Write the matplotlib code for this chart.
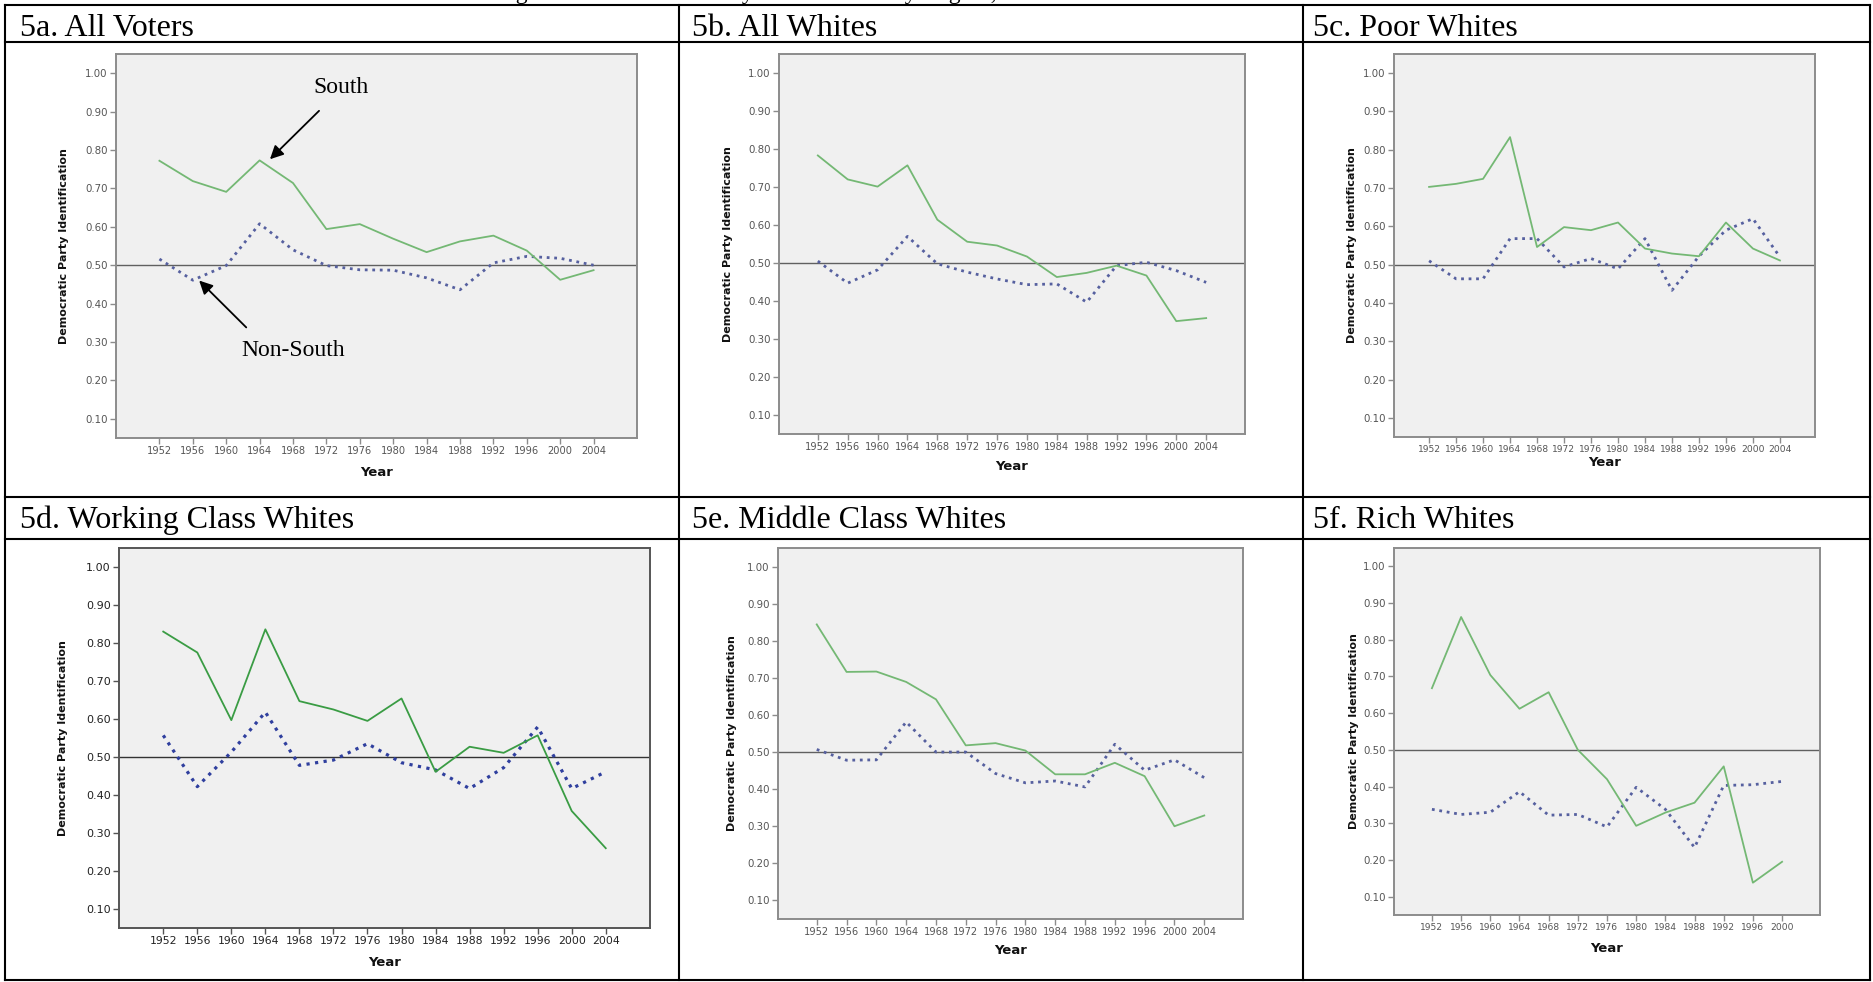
import matplotlib
matplotlib.use("Agg")
import matplotlib.pyplot as plt

W, H = 1873, 982

years = [1952, 1956, 1960, 1964, 1968, 1972, 1976, 1980, 1984, 1988, 1992, 1996, 2000, 2004]
years_rich = years[:-1]

titles = ["5a. All Voters", "5b. All Whites", "5c. Poor Whites",
          "5d. Working Class Whites", "5e. Middle Class Whites", "5f. Rich Whites"]

south_all = [0.772, 0.719, 0.691, 0.773, 0.714, 0.594, 0.607, 0.569, 0.534, 0.562, 0.577, 0.538, 0.462, 0.487]
nonsouth_all = [0.516, 0.461, 0.499, 0.608, 0.540, 0.499, 0.488, 0.487, 0.467, 0.436, 0.506, 0.523, 0.518, 0.500]

south_whites = [0.783, 0.720, 0.701, 0.757, 0.614, 0.556, 0.546, 0.517, 0.463, 0.474, 0.493, 0.467, 0.347, 0.355]
nonsouth_whites = [0.505, 0.447, 0.482, 0.570, 0.498, 0.476, 0.458, 0.443, 0.445, 0.397, 0.493, 0.502, 0.480, 0.449]

south_poor = [0.703, 0.711, 0.724, 0.833, 0.546, 0.598, 0.590, 0.610, 0.542, 0.529, 0.522, 0.610, 0.542, 0.511]
nonsouth_poor = [0.510, 0.463, 0.463, 0.568, 0.568, 0.494, 0.516, 0.489, 0.568, 0.433, 0.522, 0.590, 0.620, 0.520]

south_working = [0.830, 0.775, 0.597, 0.836, 0.647, 0.625, 0.595, 0.654, 0.461, 0.527, 0.511, 0.557, 0.358, 0.260]
nonsouth_working = [0.557, 0.422, 0.513, 0.618, 0.478, 0.492, 0.535, 0.485, 0.466, 0.417, 0.472, 0.579, 0.417, 0.461]

south_middle = [0.844, 0.716, 0.717, 0.689, 0.642, 0.518, 0.524, 0.504, 0.440, 0.440, 0.471, 0.435, 0.300, 0.329]
nonsouth_middle = [0.507, 0.478, 0.479, 0.581, 0.500, 0.500, 0.442, 0.417, 0.422, 0.406, 0.521, 0.451, 0.479, 0.431]

south_rich = [0.668, 0.862, 0.704, 0.612, 0.657, 0.500, 0.420, 0.293, 0.329, 0.356, 0.455, 0.138, 0.195]
nonsouth_rich = [0.338, 0.324, 0.330, 0.386, 0.322, 0.324, 0.290, 0.398, 0.338, 0.234, 0.403, 0.405, 0.414]

panel_years = [years, years, years, years, years, years_rich]
panel_south = [south_all, south_whites, south_poor, south_working, south_middle, south_rich]
panel_nonsouth = [nonsouth_all, nonsouth_whites, nonsouth_poor, nonsouth_working, nonsouth_middle, nonsouth_rich]

# plot frames in pixels: left, top, right, bottom ; ylabel offset, xlabel offset
frames = [
    (116, 54, 637, 438, 52, 35),
    (779, 54, 1245, 434, 51, 33),
    (1394, 54, 1815, 437, 42, 25),
    (119, 548, 650, 928, 56, 34),
    (778, 548, 1243, 919, 46, 32),
    (1394, 548, 1820, 915, 40, 33),
]

col_x = [5, 679, 1303, 1870]
row_y = [5, 42, 497, 539, 980]
title_x = [20, 692, 1313]
title_base = [36, 528]

fig = plt.figure(figsize=(W / 100, H / 100), dpi=100)
fig.patch.set_facecolor("white")

bg = fig.add_axes([0, 0, 1, 1])
bg.set_xlim(0, W)
bg.set_ylim(H, 0)
bg.axis("off")

for x in col_x:
    bg.plot([x, x], [row_y[0], row_y[-1]], color="black", lw=1.5, solid_capstyle="projecting")
for y in row_y:
    bg.plot([col_x[0], col_x[-1]], [y, y], color="black", lw=1.5, solid_capstyle="projecting")

# figure caption, cut off at the top edge as in the source page
bg.text(800, -1, "Figure 5: Democratic Party Identification by Region, 1952-2004",
        ha="center", va="baseline", fontsize=17, family="Liberation Serif", clip_on=False)

for i, t in enumerate(titles):
    bg.text(title_x[i % 3], title_base[i // 3], t, ha="left", va="baseline",
            fontsize=23, family="Liberation Serif")

for i in range(6):
    l, t, r, b, ylo, xlo = frames[i]
    w, h = r - l, b - t
    ax = fig.add_axes([l / W, 1 - b / H, w / W, h / H])
    ax.set_facecolor("#f0f0f0")
    crisp = (i == 3)
    green = "#3a9c44" if crisp else "#74b874"
    blue = "#2f3f9e" if crisp else "#56609f"
    grey = "#555555" if crisp else "#8c8c8c"
    txt = "#222222" if crisp else "#555555"
    ylab_size = 8 if crisp else 7.4
    xlab_size = 7.8 if crisp else (6.6 if i in (2, 5) else 7.1)

    yrs = panel_years[i]
    xs = list(range(len(yrs)))
    ax.axhline(0.5, color="#333333" if crisp else "#606060", lw=1.0, zorder=2)
    ax.plot(xs, panel_nonsouth[i], color=blue, lw=2.3 if crisp else 2.0,
            linestyle=(0, (1, 1.7)), dash_capstyle="butt", zorder=3)
    ax.plot(xs, panel_south[i], color=green, lw=1.3, zorder=4)

    ax.set_xlim(-1.3, len(yrs) - 1 + 1.3)
    ax.set_ylim(0.05, 1.05)
    yt = [k / 10 for k in range(1, 11)]
    ax.set_yticks(yt, [f"{v:.2f}" for v in yt])
    ax.set_xticks(xs, [str(y) for y in yrs])
    ax.tick_params(direction="out", length=4, width=1, color=grey,
                   labelcolor=txt, pad=2)
    ax.tick_params(axis="y", labelsize=ylab_size)
    ax.tick_params(axis="x", labelsize=xlab_size)
    for sp in ax.spines.values():
        sp.set_color(grey)
        sp.set_linewidth(1.4)

    ax.set_ylabel("Democratic Party Identification", fontsize=8, fontweight="bold",
                  va="center", color="#111111")
    ax.yaxis.set_label_coords(-ylo / w, 0.5)
    ax.set_xlabel("Year", fontsize=9.5, fontweight="bold", va="center", color="#111111")
    ax.xaxis.set_label_coords(0.5, -xlo / h)

    if i == 0:
        arrow = dict(arrowstyle="-|>", color="black", lw=1.3, mutation_scale=20,
                     shrinkA=0, shrinkB=0)
        ax.annotate("", xy=(3.31, 0.776), xytext=(4.78, 0.902), arrowprops=arrow, zorder=6)
        ax.text(5.44, 0.963, "South", ha="center", va="center", fontsize=17,
                family="Liberation Serif")
        ax.annotate("", xy=(1.19, 0.46), xytext=(2.60, 0.338), arrowprops=arrow, zorder=6)
        ax.text(4.01, 0.277, "Non-South", ha="center", va="center", fontsize=17,
                family="Liberation Serif")

fig.savefig("out.png", dpi=100)
